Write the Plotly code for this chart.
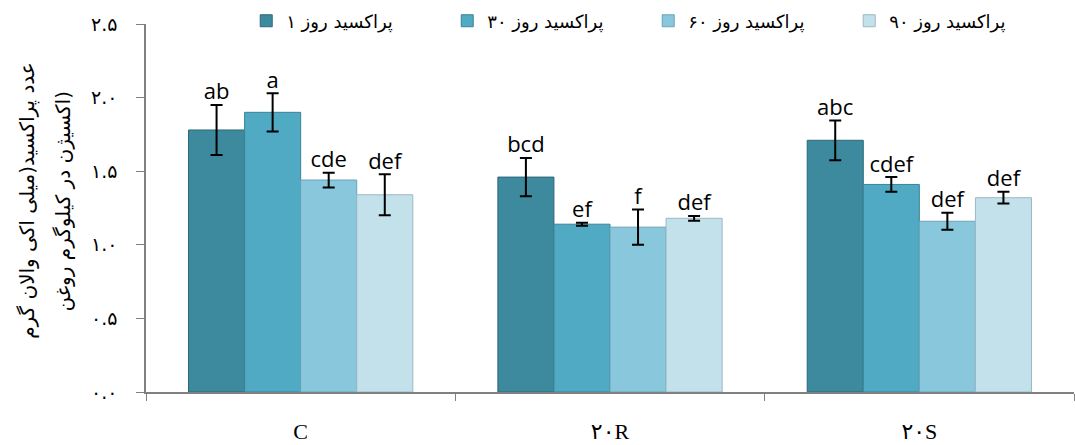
import plotly.graph_objects as go

categories = ["C", "۲۰R", "۲۰S"]
series_names = ["پراکسید روز ۱", "پراکسید روز ۳۰", "پراکسید روز ۶۰", "پراکسید روز ۹۰"]
day1 = [1.78, 1.46, 1.71]
day30 = [1.90, 1.14, 1.41]
day60 = [1.44, 1.12, 1.16]
day90 = [1.34, 1.18, 1.32]
err1 = [0.17, 0.13, 0.135]
err30 = [0.13, 0.01, 0.05]
err60 = [0.05, 0.12, 0.058]
err90 = [0.14, 0.016, 0.04]
letters1 = ["ab", "bcd", "abc"]
letters30 = ["a", "ef", "cdef"]
letters60 = ["cde", "f", "def"]
letters90 = ["def", "def", "def"]
y_ticks = [0, 0.5, 1.0, 1.5, 2.0, 2.5]
y_tick_labels = ["۰.۰", "۰.۵", "۱.۰", "۱.۵", "۲.۰", "۲.۵"]
y_title_lines = ["عدد پراکسید(میلی اکی والان گرم", "اکسیژن در کیلوگرم روغن)"]

values = [day1, day30, day60, day90]
errors = [err1, err30, err60, err90]
letters = [letters1, letters30, letters60, letters90]
colors = ["#3d8a9e", "#50aac3", "#88c7dc", "#c2e1eb"]
edges = ["#2c6878", "#3a8396", "#6aa3b6", "#9ab9c4"]

fig = go.Figure()
for i in range(4):
    fig.add_trace(go.Bar(
        x=categories, y=values[i], name=series_names[i],
        offsetgroup=str(i),
        marker=dict(color=colors[i], line=dict(color=edges[i], width=1)),
        error_y=dict(type="data", array=errors[i], color="black", thickness=2, width=6),
    ))
for i in range(4):
    fig.add_trace(go.Scatter(
        x=categories, y=[v + e for v, e in zip(values[i], errors[i])],
        mode="text", text=letters[i], textposition="top center",
        textfont=dict(size=22, color="black", family="Open Sans, Liberation Sans, sans-serif"),
        offsetgroup=str(i), showlegend=False, hoverinfo="skip",
    ))

fig.update_layout(
    width=1075, height=445,
    margin=dict(l=146, r=1, t=24, b=53),
    paper_bgcolor="white", plot_bgcolor="white",
    barmode="group", bargap=0.275, bargroupgap=0,
    scattermode="group", scattergap=0.275,
    legend=dict(orientation="h", x=0.108, xanchor="left", y=1.008, yanchor="middle",
                font=dict(size=18, family="DejaVu Sans, sans-serif", color="black"),
                entrywidth=156, entrywidthmode="pixels", traceorder="normal",
                bgcolor="rgba(0,0,0,0)"),
    font=dict(family="Liberation Serif, DejaVu Sans", color="black"),
)
fig.update_xaxes(
    showline=True, linecolor="#808080", linewidth=2,
    ticks="outside", tickson="boundaries", ticklen=7, tickcolor="#808080",
    tickfont=dict(size=22, family="Liberation Serif, DejaVu Sans", color="black"),
    ticklabelstandoff=19,
    showgrid=False, automargin=False,
)
fig.update_yaxes(
    range=[0, 2.5], tickvals=y_ticks, ticktext=y_tick_labels,
    showline=True, linecolor="#808080", linewidth=1.5,
    ticks="outside", ticklen=8, tickcolor="#808080",
    tickfont=dict(size=19, family="DejaVu Sans, sans-serif", color="black"),
    ticklabelstandoff=15,
    showgrid=False, zeroline=False, automargin=False,
)
for xp, line in zip([-0.128, -0.0895], y_title_lines):
    fig.add_annotation(
        text=line, xref="paper", yref="paper", x=xp, y=0.52,
        xanchor="center", yanchor="middle", textangle=-90, showarrow=False,
        font=dict(size=20, family="DejaVu Sans, sans-serif", color="black"),
    )
fig.write_html("out.html", config={"displayModeBar": False},
               post_script="document.body.style.margin='0';")
